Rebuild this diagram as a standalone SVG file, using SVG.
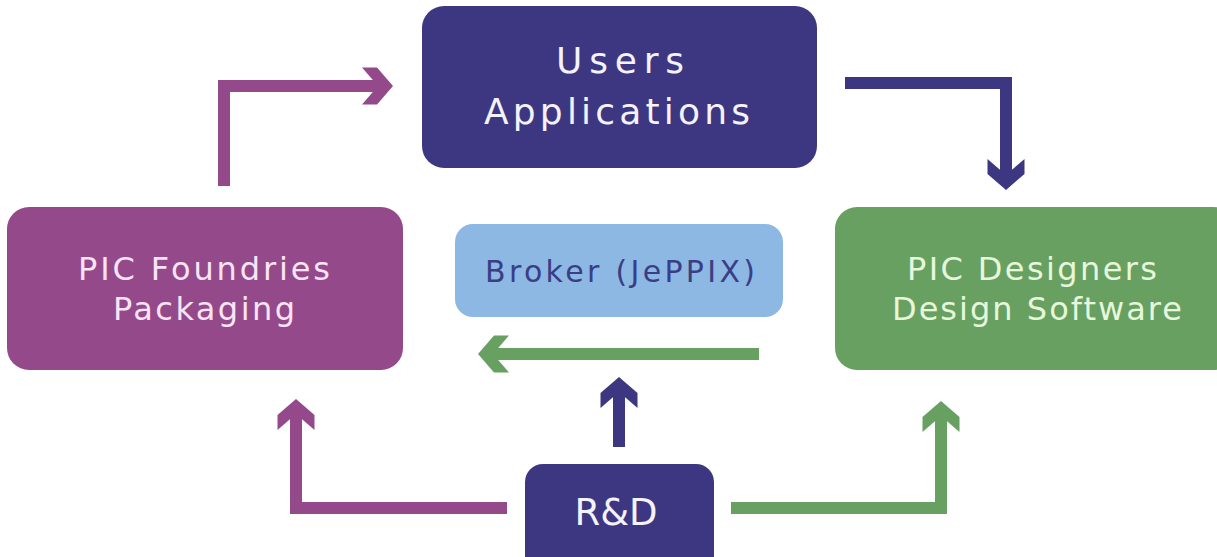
<svg xmlns="http://www.w3.org/2000/svg" xmlns:xlink="http://www.w3.org/1999/xlink" width="1217" height="557" viewBox="0 0 1217 557">
  <style>
    .lbl { font-family: "DejaVu Sans", "Liberation Sans", sans-serif; text-anchor: middle; }
    .conn { fill: none; stroke-width: 12; stroke-linejoin: miter; stroke-linecap: butt; }
    .purple { stroke: #944a8a; }
    .blue { stroke: #3d3781; }
    .green { stroke: #68a062; }
  </style>
  <defs>
    <path id="head" d="M-31,-18.5 L-16,-18.5 L0,0 L-16,18.5 L-31,18.5 L-15,0 Z"/>
  </defs>
  <rect width="1217" height="557" fill="#ffffff"/>

  <g id="connectors">
    <polyline class="conn purple" points="224,186 224,86 382,86"/>
    <use xlink:href="#head" href="#head" fill="#944a8a" transform="translate(393,86)"/>

    <polyline class="conn blue" points="845,83 1006,83 1006,180"/>
    <use xlink:href="#head" href="#head" fill="#3d3781" transform="translate(1006,190) rotate(90)"/>

    <polyline class="conn green" points="759,354 490,354"/>
    <use xlink:href="#head" href="#head" fill="#68a062" transform="translate(478,354) rotate(180)"/>

    <polyline class="conn blue" points="619,447 619,388"/>
    <use xlink:href="#head" href="#head" fill="#3d3781" transform="translate(619,377) rotate(-90)"/>

    <polyline class="conn purple" points="507,508 296,508 296,410"/>
    <use xlink:href="#head" href="#head" fill="#944a8a" transform="translate(296,399) rotate(-90)"/>

    <polyline class="conn green" points="731,508 941,508 941,412"/>
    <use xlink:href="#head" href="#head" fill="#68a062" transform="translate(941,401) rotate(-90)"/>
  </g>

  <g id="users">
    <rect x="422" y="6" width="395" height="162" rx="22" fill="#3d3781"/>
    <text class="lbl" x="620" y="73" font-size="36" fill="#f4f2fa" textLength="128" lengthAdjust="spacing">Users</text>
    <text class="lbl" x="617" y="124" font-size="36" fill="#f4f2fa" textLength="266" lengthAdjust="spacing">Applications</text>
  </g>

  <g id="foundries">
    <rect x="7" y="207" width="396" height="163" rx="22" fill="#944a8a"/>
    <text class="lbl" x="204" y="280" font-size="32" fill="#f8e4f4" textLength="252" lengthAdjust="spacing">PIC Foundries</text>
    <text class="lbl" x="204" y="320" font-size="32" fill="#f8e4f4" textLength="182" lengthAdjust="spacing">Packaging</text>
  </g>

  <g id="designers">
    <rect x="835" y="207" width="400" height="163" rx="22" fill="#68a062"/>
    <text class="lbl" x="1032" y="280" font-size="32" fill="#e6f7dc" textLength="250" lengthAdjust="spacing">PIC Designers</text>
    <text class="lbl" x="1037" y="320" font-size="32" fill="#e6f7dc" textLength="290" lengthAdjust="spacing">Design Software</text>
  </g>

  <g id="broker">
    <rect x="455" y="224" width="328" height="93" rx="18" fill="#8db8e4"/>
    <text class="lbl" x="620" y="282" font-size="30" fill="#3b3e85" textLength="270" lengthAdjust="spacing">Broker (JePPIX)</text>
  </g>

  <g id="rnd">
    <rect x="525" y="464" width="189" height="110" rx="18" fill="#3d3781"/>
    <text class="lbl" x="616" y="525" font-size="37" fill="#f4f2fa" textLength="83" lengthAdjust="spacing">R&amp;D</text>
  </g>
</svg>
